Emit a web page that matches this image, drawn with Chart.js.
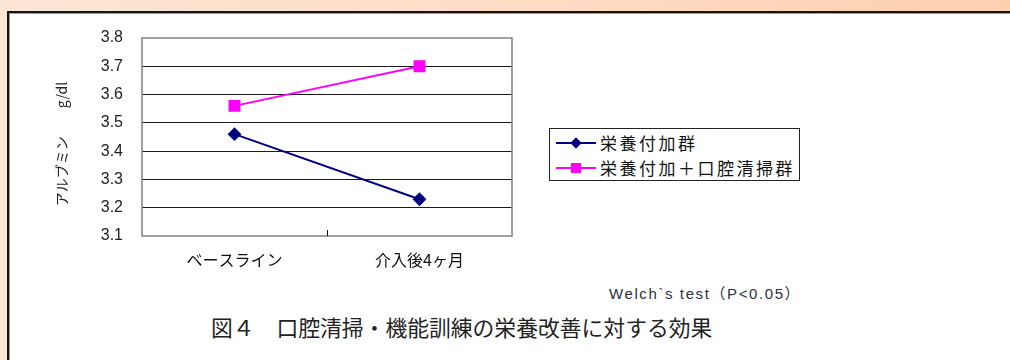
<!DOCTYPE html>
<html lang="ja">
<head>
<meta charset="utf-8">
<title>口腔清掃・機能訓練の栄養改善に対する効果</title>
<script src="https://cdn.jsdelivr.net/npm/chart.js@4.4.1/dist/chart.umd.min.js"></script>
<style>
  html, body { margin: 0; padding: 0; }
  body {
    width: 1010px; height: 360px; overflow: hidden; position: relative;
    background: linear-gradient(90deg, #fde6d6 0%, #fddcc6 50%, #fdd0b0 100%);
    font-family: "Noto Sans CJK JP", "Noto Sans", sans-serif;
  }
  #panel {
    position: absolute; left: 7px; top: 11px; width: 1020px; height: 370px;
    background: #fff;
    border-left: 2px solid #151515; border-top: 2px solid #151515;
    box-shadow: inset 1px 1px 0 #9a9a9a;
  }
  #chartBox { position: absolute; left: 0; top: 0; width: 560px; height: 290px; }
  #legend {
    position: absolute; left: 549px; top: 128px; width: 249px; height: 51px;
    border: 1px solid #222; background: #fff; box-sizing: content-box;
  }
  .row { position: absolute; left: 0; height: 24px; width: 249px; }
  .row .ln { position: absolute; left: 6px; top: 11px; width: 40px; height: 2px; }
  .row .mk { position: absolute; }
  .row .tx {
    position: absolute; left: 50px; top: 0; line-height: 24px;
    font-size: 17px; letter-spacing: 2.5px; color: #111; white-space: nowrap;
  }
  #welch {
    position: absolute; left: 609px; top: 282px; font-size: 15px; letter-spacing: 1.6px;
    color: #2b3040; font-family: "Liberation Sans", "Noto Sans CJK JP", sans-serif; white-space: nowrap;
  }
  #caption {
    position: absolute; left: 211px; top: 311px; font-size: 21.8px; color: #222; white-space: nowrap;
  }
</style>
</head>
<body>
<div id="panel"></div>
<div id="chartBox"><canvas id="albuminChart"></canvas></div>
<div id="legend"></div>
<div id="welch">Welch`s test（P&lt;0.05）</div>
<div id="caption">図４　口腔清掃・機能訓練の栄養改善に対する効果</div>

<script>
// Data
const categories = ['ベースライン', '介入後4ヶ月'];
const nutritionGroup = [3.46, 3.23];
const nutritionOralGroup = [3.56, 3.70];
const seriesNames = ['栄養付加群', '栄養付加＋口腔清掃群'];
const yTicks = [3.1, 3.2, 3.3, 3.4, 3.5, 3.6, 3.7, 3.8];

// Frame round the plot area and small inner ticks between categories
const plotFrame = {
    id: 'plotFrame',
    beforeDatasetsDraw(chart) {
        const { ctx, chartArea: a, scales: { x } } = chart;
        ctx.save();
        ctx.strokeStyle = '#808080';
        ctx.lineWidth = 1.5;
        ctx.strokeRect(a.left, a.top, a.right - a.left, a.bottom - a.top);
        ctx.strokeStyle = '#111';
        ctx.lineWidth = 1;
        for (let i = 1; i < categories.length; i++) {
            const px = Math.round((x.getPixelForValue(i - 1) + x.getPixelForValue(i)) / 2) + 0.5;
            ctx.beginPath();
            ctx.moveTo(px, a.bottom);
            ctx.lineTo(px, a.bottom - 6);
            ctx.stroke();
        }
        ctx.restore();
    }
};

const ctx = document.getElementById('albuminChart').getContext('2d');
const chart = new Chart(ctx, {
    type: 'line',
    data: {
        labels: categories,
        datasets: [{
            label: seriesNames[0],
            data: nutritionGroup,
            borderColor: '#000080',
            backgroundColor: '#000080',
            borderWidth: 2,
            pointStyle: 'rectRot',
            pointRadius: 5.5,
            pointHoverRadius: 5.5,
            tension: 0,
            fill: false
        }, {
            label: seriesNames[1],
            data: nutritionOralGroup,
            borderColor: '#ff00ff',
            backgroundColor: '#ff00ff',
            borderWidth: 2,
            pointStyle: 'rect',
            pointRadius: 7,
            pointHoverRadius: 7,
            tension: 0,
            fill: false
        }]
    },
    options: {
        responsive: true,
        maintainAspectRatio: false,
        animation: false,
        events: [],
        layout: { padding: { left: 0, top: 38, right: 48, bottom: 0 } },
        plugins: {
            legend: { display: false },
            tooltip: { enabled: false }
        },
        scales: {
            x: {
                offset: true,
                grid: { display: false },
                border: { display: false },
                ticks: {
                    color: '#111',
                    padding: 6,
                    font: { family: '"Noto Sans CJK JP"', size: 16 }
                },
                afterFit: s => { s.height = 54; }
            },
            y: {
                min: yTicks[0],
                max: yTicks[yTicks.length - 1],
                afterBuildTicks: s => { s.ticks = yTicks.map(v => ({ value: v })); },
                afterFit: s => { s.width = 142; },
                border: { display: false },
                grid: {
                    drawTicks: false,
                    lineWidth: 1,
                    color: c => (c.tick && (c.tick.value === yTicks[0] || c.tick.value === yTicks[yTicks.length - 1]))
                        ? 'rgba(0,0,0,0)' : '#1a1a1a'
                },
                ticks: {
                    color: '#222',
                    padding: 19,
                    font: { family: '"Liberation Sans", Arial', size: 16 },
                    callback: v => Number(v).toFixed(1)
                },
                title: {
                    display: true,
                    text: 'アルブミン　　g/dl　',
                    color: '#222',
                    padding: { top: 53 },
                    font: { family: '"Noto Sans CJK JP"', size: 14 }
                }
            }
        }
    },
    plugins: [plotFrame]
});

// Legend built from the chart's datasets
const legend = document.getElementById('legend');
chart.data.datasets.forEach((ds, i) => {
    const row = document.createElement('div');
    row.className = 'row';
    row.style.top = (2 + i * 25) + 'px';
    const ln = document.createElement('span');
    ln.className = 'ln';
    ln.style.background = ds.borderColor;
    const mk = document.createElement('span');
    mk.className = 'mk';
    mk.style.background = ds.backgroundColor;
    if (ds.pointStyle === 'rectRot') {
        Object.assign(mk.style, { left: '22px', top: '8px', width: '8px', height: '8px', transform: 'rotate(45deg)' });
    } else {
        Object.assign(mk.style, { left: '21px', top: '7px', width: '10px', height: '10px' });
    }
    const tx = document.createElement('span');
    tx.className = 'tx';
    tx.textContent = ds.label;
    row.append(ln, mk, tx);
    legend.appendChild(row);
});
</script>
</body>
</html>
